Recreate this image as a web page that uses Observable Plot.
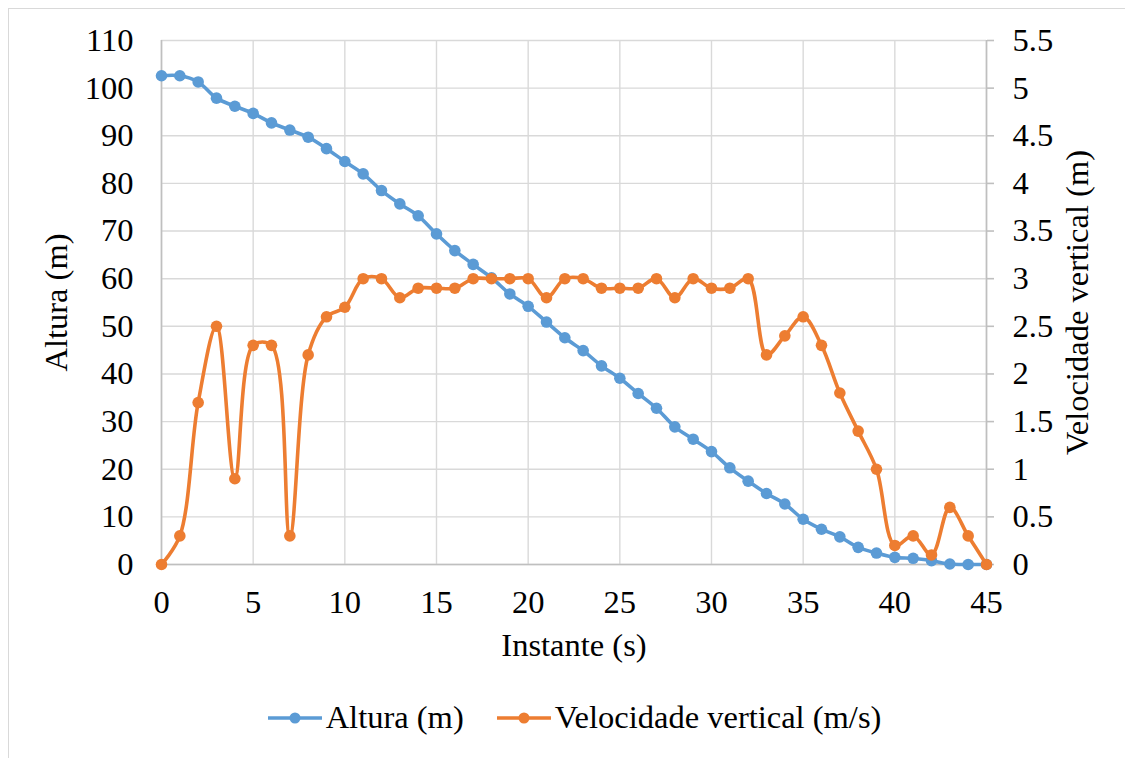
<!DOCTYPE html>
<html>
<head>
<meta charset="utf-8">
<script src="https://cdn.jsdelivr.net/npm/d3@7"></script>
<script src="https://cdn.jsdelivr.net/npm/@observablehq/plot@0.6"></script>
<style>
  html, body { margin: 0; padding: 0; background: #fff; width: 1125px; height: 758px; overflow: hidden; }
  #frame { position: absolute; left: 8px; top: 8px; width: 1300px; height: 900px; border: 1.5px solid #d9d9d9; box-sizing: border-box; }
  #chart { position: absolute; left: 0; top: 0; }
  #legend { position: absolute; left: 0; top: 699px; width: 1148px; display: flex; justify-content: center; align-items: center; font-size: 32.5px; color: #000; }
  .item { display: flex; align-items: center; margin: 0 16px; }
  .item svg { margin-right: 3px; }
</style>
</head>
<body>
<div id="frame"></div>
<div id="chart"></div>
<div id="legend"></div>
<script>
// ---- data ----
const instante = [0,1,2,3,4,5,6,7,8,9,10,11,12,13,14,15,16,17,18,19,20,21,22,23,24,25,26,27,28,29,30,31,32,33,34,35,36,37,38,39,40,41,42,43,44,45];
const altura = [102.6,102.6,101.3,97.9,96.2,94.7,92.7,91.2,89.7,87.3,84.6,82.0,78.5,75.7,73.2,69.4,65.9,63.0,60.2,56.8,54.2,50.9,47.6,44.9,41.7,39.1,35.9,32.8,28.9,26.3,23.7,20.3,17.5,14.9,12.7,9.5,7.4,5.8,3.6,2.4,1.5,1.3,0.8,0.1,0,0];
const velocidade = [0,0.3,1.7,2.5,0.9,2.3,2.3,0.3,2.2,2.6,2.7,3.0,3.0,2.8,2.9,2.9,2.9,3.0,3.0,3.0,3.0,2.8,3.0,3.0,2.9,2.9,2.9,3.0,2.8,3.0,2.9,2.9,3.0,2.2,2.4,2.6,2.3,1.8,1.4,1.0,0.2,0.3,0.1,0.6,0.3,0];
const xTicks = [0,5,10,15,20,25,30,35,40,45];
const leftTicks = [0,10,20,30,40,50,60,70,80,90,100,110];
const rightTicks = [0,0.5,1,1.5,2,2.5,3,3.5,4,4.5,5,5.5];
const seriesNames = ["Altura (m)", "Velocidade vertical (m/s)"];
const colors = ["#5B9BD5", "#ED7D31"];

const FONT = '"Liberation Serif"';
const leftMax = 110, rightMax = 5.5;
const k = leftMax / rightMax;

const dataA = instante.map((t, i) => ({t, v: altura[i]}));
const dataV = instante.map((t, i) => ({t, v: velocidade[i] * k}));

const plot = Plot.plot({
  width: 1125,
  height: 680,
  marginTop: 40,
  marginBottom: 116,
  marginLeft: 161,
  marginRight: 139,
  style: {fontSize: "32.5px", color: "#000", background: "transparent", overflow: "visible"},
  x: {domain: [0, 45]},
  y: {domain: [0, leftMax]},
  marks: [
    Plot.gridX(xTicks, {stroke: "#d9d9d9", strokeOpacity: 1, strokeWidth: 1.4}),
    Plot.gridY(leftTicks, {stroke: "#d9d9d9", strokeOpacity: 1, strokeWidth: 1.4}),
    Plot.ruleX([0, 45], {stroke: "#bfbfbf", strokeWidth: 1.6}),
    Plot.ruleY([0], {stroke: "#bfbfbf", strokeWidth: 1.6}),
    Plot.axisX(xTicks, {tickSize: 0, tickPadding: 25, label: "Instante (s)", labelAnchor: "center", labelArrow: "none", labelOffset: 91, fill: "#000", fontFamily: FONT}),
    Plot.axisY(leftTicks, {anchor: "left", tickSize: 0, tickPadding: 28, label: "Altura (m)", labelAnchor: "center", labelArrow: "none", labelOffset: 118, fill: "#000", fontFamily: FONT}),
    Plot.axisY(rightTicks.map(v => v * k), {anchor: "right", tickSize: 7, stroke: "#bfbfbf", strokeWidth: 1.6, tickPadding: 19,
      tickFormat: d => String(+(d / k).toFixed(1)), label: "Velocidade vertical (m)", labelAnchor: "center", labelArrow: "none", labelOffset: 101, fill: "#000", fontFamily: FONT}),
    Plot.line(dataA, {x: "t", y: "v", stroke: colors[0], strokeWidth: 3.6, curve: "catmull-rom"}),
    Plot.dot(dataA, {x: "t", y: "v", r: 5.8, fill: colors[0], stroke: "none"}),
    Plot.line(dataV, {x: "t", y: "v", stroke: colors[1], strokeWidth: 3.6, curve: "catmull-rom"}),
    Plot.dot(dataV, {x: "t", y: "v", r: 5.8, fill: colors[1], stroke: "none"})
  ]
});
plot.style.fontFamily = FONT;
plot.querySelectorAll("text").forEach(t => t.style.fontFamily = FONT);
document.getElementById("chart").appendChild(plot);

// legend
const legend = document.getElementById("legend");
legend.style.fontFamily = FONT;
seriesNames.forEach((name, i) => {
  const item = document.createElement("div");
  item.className = "item";
  item.innerHTML = `<svg width="56" height="14"><line x1="1" x2="55" y1="7" y2="7" stroke="${colors[i]}" stroke-width="3.6"/><circle cx="28" cy="7" r="5.5" fill="${colors[i]}"/></svg><span>${name}</span>`;
  legend.appendChild(item);
});
</script>
</body>
</html>
